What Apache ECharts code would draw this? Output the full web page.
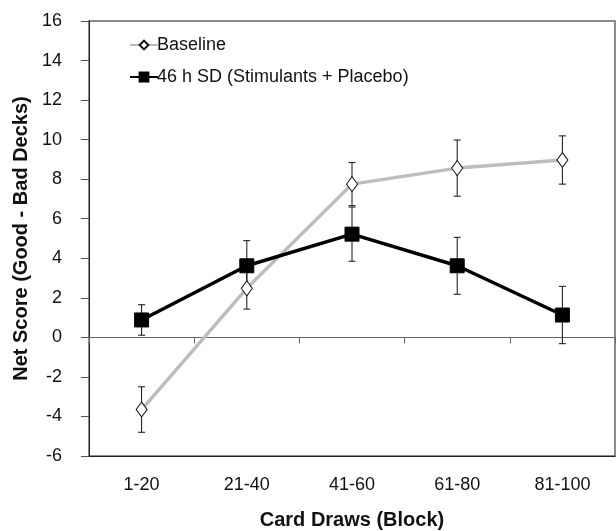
<!DOCTYPE html>
<html>
<head>
<meta charset="utf-8">
<script src="https://cdn.jsdelivr.net/npm/echarts@6/dist/echarts.min.js"></script>
<style>
  html, body { margin: 0; padding: 0; background: #fff; }
  #main { width: 616px; height: 531px; }
</style>
</head>
<body>
<div id="main"></div>
<script>
var blocks = ['1-20', '21-40', '41-60', '61-80', '81-100'];
var baselineMean = [-3.65, 2.48, 7.75, 8.56, 8.97];
var baselineErr = [1.15, 1.05, 1.09, 1.42, 1.22];
var sdMean = [0.88, 3.62, 5.22, 3.62, 1.13];
var sdErr = [0.77, 1.27, 1.37, 1.44, 1.45];
var yTicks = { min: -6, max: 16, interval: 2 };

function errData(mean, err) {
    var out = [];
    for (var i = 0; i < mean.length; i++) {
        out.push([i, mean[i] - err[i], mean[i] + err[i]]);
    }
    return out;
}

// vertical whisker with small caps
function renderErr(params, api) {
    var lo = api.coord([api.value(0), api.value(1)]);
    var hi = api.coord([api.value(0), api.value(2)]);
    var w = 3.5;
    var st = { stroke: '#111', lineWidth: 1 };
    return {
        type: 'group',
        children: [
            { type: 'line', shape: { x1: hi[0], y1: hi[1], x2: lo[0], y2: lo[1] }, style: st },
            { type: 'line', shape: { x1: hi[0] - w, y1: hi[1], x2: hi[0] + w, y2: hi[1] }, style: st },
            { type: 'line', shape: { x1: lo[0] - w, y1: lo[1], x2: lo[0] + w, y2: lo[1] }, style: st }
        ]
    };
}

var chart = echarts.init(document.getElementById('main'));
var option = {
    animation: false,
    textStyle: { fontFamily: 'Liberation Sans, Arial, sans-serif' },
    grid: {
        left: 89, right: 1, top: 21, bottom: 75,
        outerBoundsMode: 'none',
        containLabel: false,
        show: true,
        borderColor: '#666',
        borderWidth: 1.5
    },
    legend: {
        orient: 'vertical',
        left: 124,
        top: 31,
        itemGap: 14,
        itemWidth: 28,
        itemHeight: 11,
        textStyle: { fontSize: 18, color: '#111', padding: [0, 0, 0, -6] },
        data: ['Baseline', '46 h SD (Stimulants + Placebo)']
    },
    xAxis: [{
        type: 'category',
        data: blocks,
        boundaryGap: true,
        position: 'bottom',
        axisLine: { onZero: false, lineStyle: { color: '#222', width: 1 } },
        axisTick: { show: false },
        axisLabel: { fontSize: 18, color: '#111', margin: 20 },
        name: 'Card Draws (Block)',
        nameLocation: 'middle',
        nameGap: 54,
        nameTextStyle: { fontSize: 20, fontWeight: 'bold', color: '#111' }
    }, {
        type: 'category',
        data: blocks,
        boundaryGap: true,
        position: 'bottom',
        axisLine: { onZero: true, lineStyle: { color: '#666', width: 1 } },
        axisTick: { show: true, inside: false, length: 6, alignWithLabel: false, lineStyle: { color: '#666' } },
        axisLabel: { show: false }
    }],
    yAxis: {
        type: 'value',
        min: yTicks.min,
        max: yTicks.max,
        interval: yTicks.interval,
        axisLine: { show: true, lineStyle: { color: '#222', width: 1 } },
        axisTick: { show: true, length: 8, lineStyle: { color: '#555' } },
        splitLine: { show: false },
        axisLabel: { fontSize: 18, color: '#111', margin: 27 },
        name: 'Net Score (Good - Bad Decks)',
        nameLocation: 'middle',
        nameGap: 58,
        nameTextStyle: { fontSize: 20, fontWeight: 'bold', color: '#111' }
    },
    series: [{
        name: 'Baseline',
        type: 'line',
        data: baselineMean,
        symbol: 'diamond',
        symbolSize: [11, 15],
        lineStyle: { color: '#bdbdbd', width: 3.5 },
        itemStyle: { color: '#fff', borderColor: '#111', borderWidth: 1 },
        z: 3
    }, {
        name: '46 h SD (Stimulants + Placebo)',
        type: 'line',
        data: sdMean,
        symbol: 'rect',
        symbolSize: 14,
        lineStyle: { color: '#000', width: 3.5 },
        itemStyle: { color: '#000', borderColor: '#000', borderWidth: 1 },
        z: 4
    }, {
        type: 'custom',
        renderItem: renderErr,
        data: errData(baselineMean, baselineErr),
        z: 2,
        silent: true
    }, {
        type: 'custom',
        renderItem: renderErr,
        data: errData(sdMean, sdErr),
        z: 2,
        silent: true
    }]
};
chart.setOption(option);
window.addEventListener('resize', function () {
    chart.resize();
});
</script>
</body>
</html>
